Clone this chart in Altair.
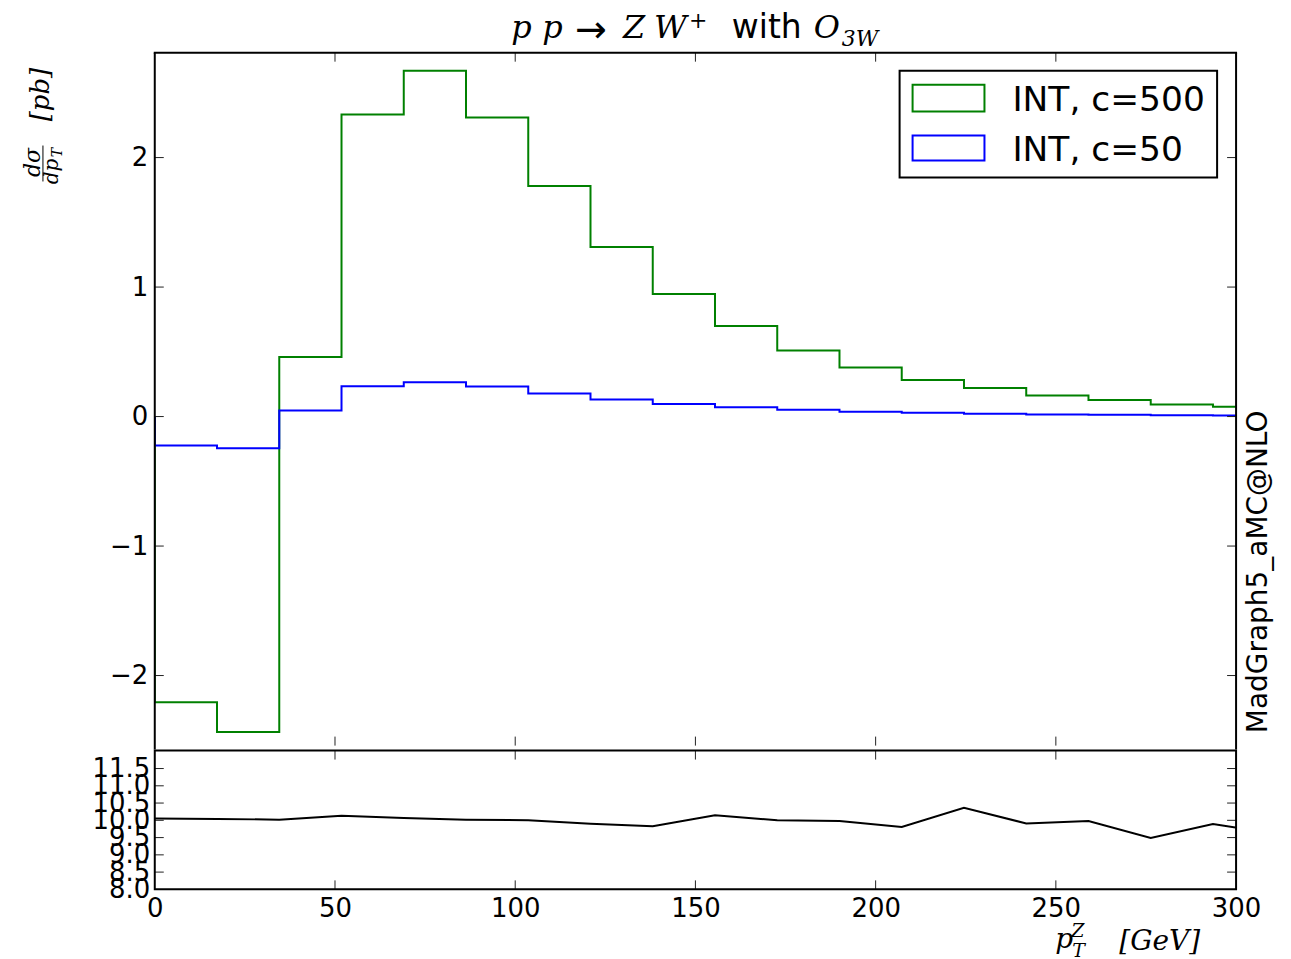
import altair as alt
import pandas as pd

# ---------------- data ----------------
edges = [0.0, 17.27, 34.54, 51.81, 69.08, 86.35, 103.62, 120.89, 138.16, 155.43,
         172.7, 189.97, 207.24, 224.51, 241.78, 259.05, 276.32, 293.59, 310.86]
green = [-2.207, -2.436, 0.46, 2.333, 2.67, 2.31, 1.78, 1.31, 0.946, 0.70,
         0.51, 0.378, 0.282, 0.22, 0.163, 0.128, 0.094, 0.075]
blue = [-0.224, -0.244, 0.047, 0.234, 0.265, 0.232, 0.178, 0.132, 0.097, 0.072,
        0.052, 0.038, 0.029, 0.021, 0.016, 0.013, 0.0095, 0.0075]
ratio = [10.05, 10.04, 10.02, 10.13, 10.07, 10.02, 10.0, 9.9, 9.83, 10.15,
         10.0, 9.98, 9.81, 10.36, 9.91, 9.98, 9.49, 9.89, 9.62]
x_ticks = [0, 50, 100, 150, 200, 250, 300]
main_y_ticks = [-2, -1, 0, 1, 2]
ratio_y_ticks = [8.0, 8.5, 9.0, 9.5, 10.0, 10.5, 11.0, 11.5]
series_labels = ["INT, c=500", "INT, c=50"]
series_colors = ["green", "blue"]

W, H1, H2 = 1083, 694, 139
MATH = "DejaVu Serif"
SANS = "DejaVu Sans"

xscale = alt.Scale(domain=[0, 300], nice=False, zero=False)
yscale = alt.Scale(domain=[-2.541, 2.81], nice=False, zero=False)
rscale = alt.Scale(domain=[8.0, 12.02], nice=False, zero=False)

one = pd.DataFrame({"k": [0]})


def step_table(vals):
    rows = [{"x": edges[0], "y": 0.0}]
    for i, v in enumerate(vals):
        rows.append({"x": edges[i], "y": v})
        rows.append({"x": edges[i + 1], "y": v})
    rows.append({"x": edges[len(vals)], "y": 0.0})
    for k, r in enumerate(rows):
        r["order"] = k
    return pd.DataFrame(rows)


def label(text, x, y, size, font=SANS, style="normal", angle=0, align="left",
          baseline="alphabetic"):
    return alt.Chart(pd.DataFrame({"t": [text]})).mark_text(
        font=font, fontSize=size, fontStyle=style, angle=angle, align=align,
        baseline=baseline, color="black").encode(
        x=alt.value(x), y=alt.value(y), text="t:N")


def box(x, x2, y, y2, stroke, width=2, fill="white"):
    return alt.Chart(one).mark_rect(
        fill=fill, stroke=stroke, strokeWidth=width).encode(
        x=alt.value(x), x2=alt.value(x2), y=alt.value(y), y2=alt.value(y2))


def seg(x, x2, y, y2, width=2, color="black"):
    return alt.Chart(one).mark_rule(color=color, strokeWidth=width).encode(
        x=alt.value(x), x2=alt.value(x2), y=alt.value(y), y2=alt.value(y2))


def make_axis(values, fmt, pad):
    return alt.Axis(values=values, ticks=False, tickSize=0, domain=False,
                    grid=False, labelFontSize=26, labelFont=SANS,
                    labelColor="black", labelPadding=pad, title=None,
                    format=fmt, labelOverlap=False, labelFlush=False)


y_axis_main = make_axis(main_y_ticks, "d", 7)
x_axis_ratio = make_axis(x_ticks, "d", 6)
y_axis_ratio = make_axis(ratio_y_ticks, ".1f", 5)

tick_style = dict(color="#222222", strokeWidth=1)


def xticks(df, h, scale, axis):
    bot = alt.Chart(df).mark_rule(**tick_style).encode(
        x=alt.X("v:Q", scale=scale, axis=axis), y=alt.value(h), y2=alt.value(h - 9))
    top = alt.Chart(df).mark_rule(**tick_style).encode(
        x=alt.X("v:Q", scale=scale, axis=axis), y=alt.value(0), y2=alt.value(9))
    return [bot, top]


def yticks(df, scale, axis):
    left = alt.Chart(df).mark_rule(**tick_style).encode(
        y=alt.Y("v:Q", scale=scale, axis=axis), x=alt.value(0), x2=alt.value(9))
    right = alt.Chart(df).mark_rule(**tick_style).encode(
        y=alt.Y("v:Q", scale=scale, axis=axis), x=alt.value(W), x2=alt.value(W - 9))
    return [left, right]


# ---------------- main panel ----------------
g_line = alt.Chart(step_table(green)).mark_line(
    color=series_colors[0], strokeWidth=2, clip=True).encode(
    x=alt.X("x:Q", scale=xscale, axis=None),
    y=alt.Y("y:Q", scale=yscale, axis=y_axis_main),
    order="order:Q")
b_line = alt.Chart(step_table(blue)).mark_line(
    color=series_colors[1], strokeWidth=2, clip=True).encode(
    x=alt.X("x:Q", scale=xscale, axis=None),
    y=alt.Y("y:Q", scale=yscale, axis=y_axis_main),
    order="order:Q")

xt = pd.DataFrame({"v": x_ticks[1:-1]})
myt = pd.DataFrame({"v": main_y_ticks})

# frame of the main panel: top, left, right (bottom is the ratio panel's top)
main_frame = [
    seg(-1, W + 1, 0, 0),
    seg(0, 0, 0, H1 + 4),
    seg(W, W, 0, H1 + 4),
]

legend_layers = [
    box(746, 1064, 18, 125, "black"),
    box(759, 831, 32, 59, series_colors[0]),
    box(759, 831, 83, 108, series_colors[1]),
    label(series_labels[0], 859, 58, 34.5),
    label(series_labels[1], 859, 108, 34.5),
]

title_layers = [
    label("p", 357, -15, 32, font=MATH, style="italic"),
    label("p", 388, -15, 32, font=MATH, style="italic"),
    label("→", 421, -11, 38, font=SANS),
    label("Z", 469, -15, 32, font=MATH, style="italic"),
    label("W", 500, -15, 32, font=MATH, style="italic"),
    label("+", 535, -25, 22, font=MATH),
    label("with", 578, -15, 33),
    label("O", 660, -15, 32, font=MATH, style="italic"),
    label("3W", 688, -7, 22, font=MATH, style="italic"),
]

ylabel_layers = [
    label("[pb]", -106, 42, 26, font=MATH, style="italic", angle=270, align="center"),
    label("dσ", -115, 110, 22, font=MATH, style="italic", angle=270, align="center"),
    seg(-112, -112, 93, 129, width=1),
    label("dp", -97, 119, 20, font=MATH, style="italic", angle=270, align="center"),
    label("T", -93, 100, 14, font=MATH, style="italic", angle=270, align="center"),
]

mg_layer = label("MadGraph5_aMC@NLO", 1114, 520, 28, angle=270, align="center")

main = alt.layer(
    g_line, b_line,
    *xticks(xt, H1, xscale, None), *yticks(myt, yscale, y_axis_main),
    *main_frame, *legend_layers, *title_layers, *ylabel_layers, mg_layer,
).properties(width=W, height=H1)

# ---------------- ratio panel ----------------
rdf = pd.DataFrame({"x": edges, "r": ratio})
r_line = alt.Chart(rdf).mark_line(color="black", strokeWidth=2, clip=True).encode(
    x=alt.X("x:Q", scale=xscale, axis=x_axis_ratio),
    y=alt.Y("r:Q", scale=rscale, axis=y_axis_ratio),
)
rxt = pd.DataFrame({"v": x_ticks[1:-1]})
ryt = pd.DataFrame({"v": ratio_y_ticks[1:]})

ratio_frame = alt.Chart(one).mark_rect(
    filled=False, stroke="black", strokeWidth=2).encode(
    x=alt.value(0), x2=alt.value(W), y=alt.value(0), y2=alt.value(H2))

xlabel_layers = [
    label("p", 902, 198, 28, font=MATH, style="italic"),
    label("Z", 918, 187, 19, font=MATH, style="italic"),
    label("T", 919, 207, 19, font=MATH, style="italic"),
    label("[GeV]", 966, 200, 28, font=MATH, style="italic"),
]

ratio_panel = alt.layer(
    r_line, *xticks(rxt, H2, xscale, x_axis_ratio),
    *yticks(ryt, rscale, y_axis_ratio), ratio_frame, *xlabel_layers
).properties(width=W, height=H2)

chart = alt.vconcat(main, ratio_panel, spacing=-9).properties(
    padding={"left": 14, "top": 1, "right": 10, "bottom": 5},
    background="white",
).configure_view(strokeWidth=0, stroke="transparent")

chart.save("out.html", embed_options={"renderer": "svg", "actions": False})
